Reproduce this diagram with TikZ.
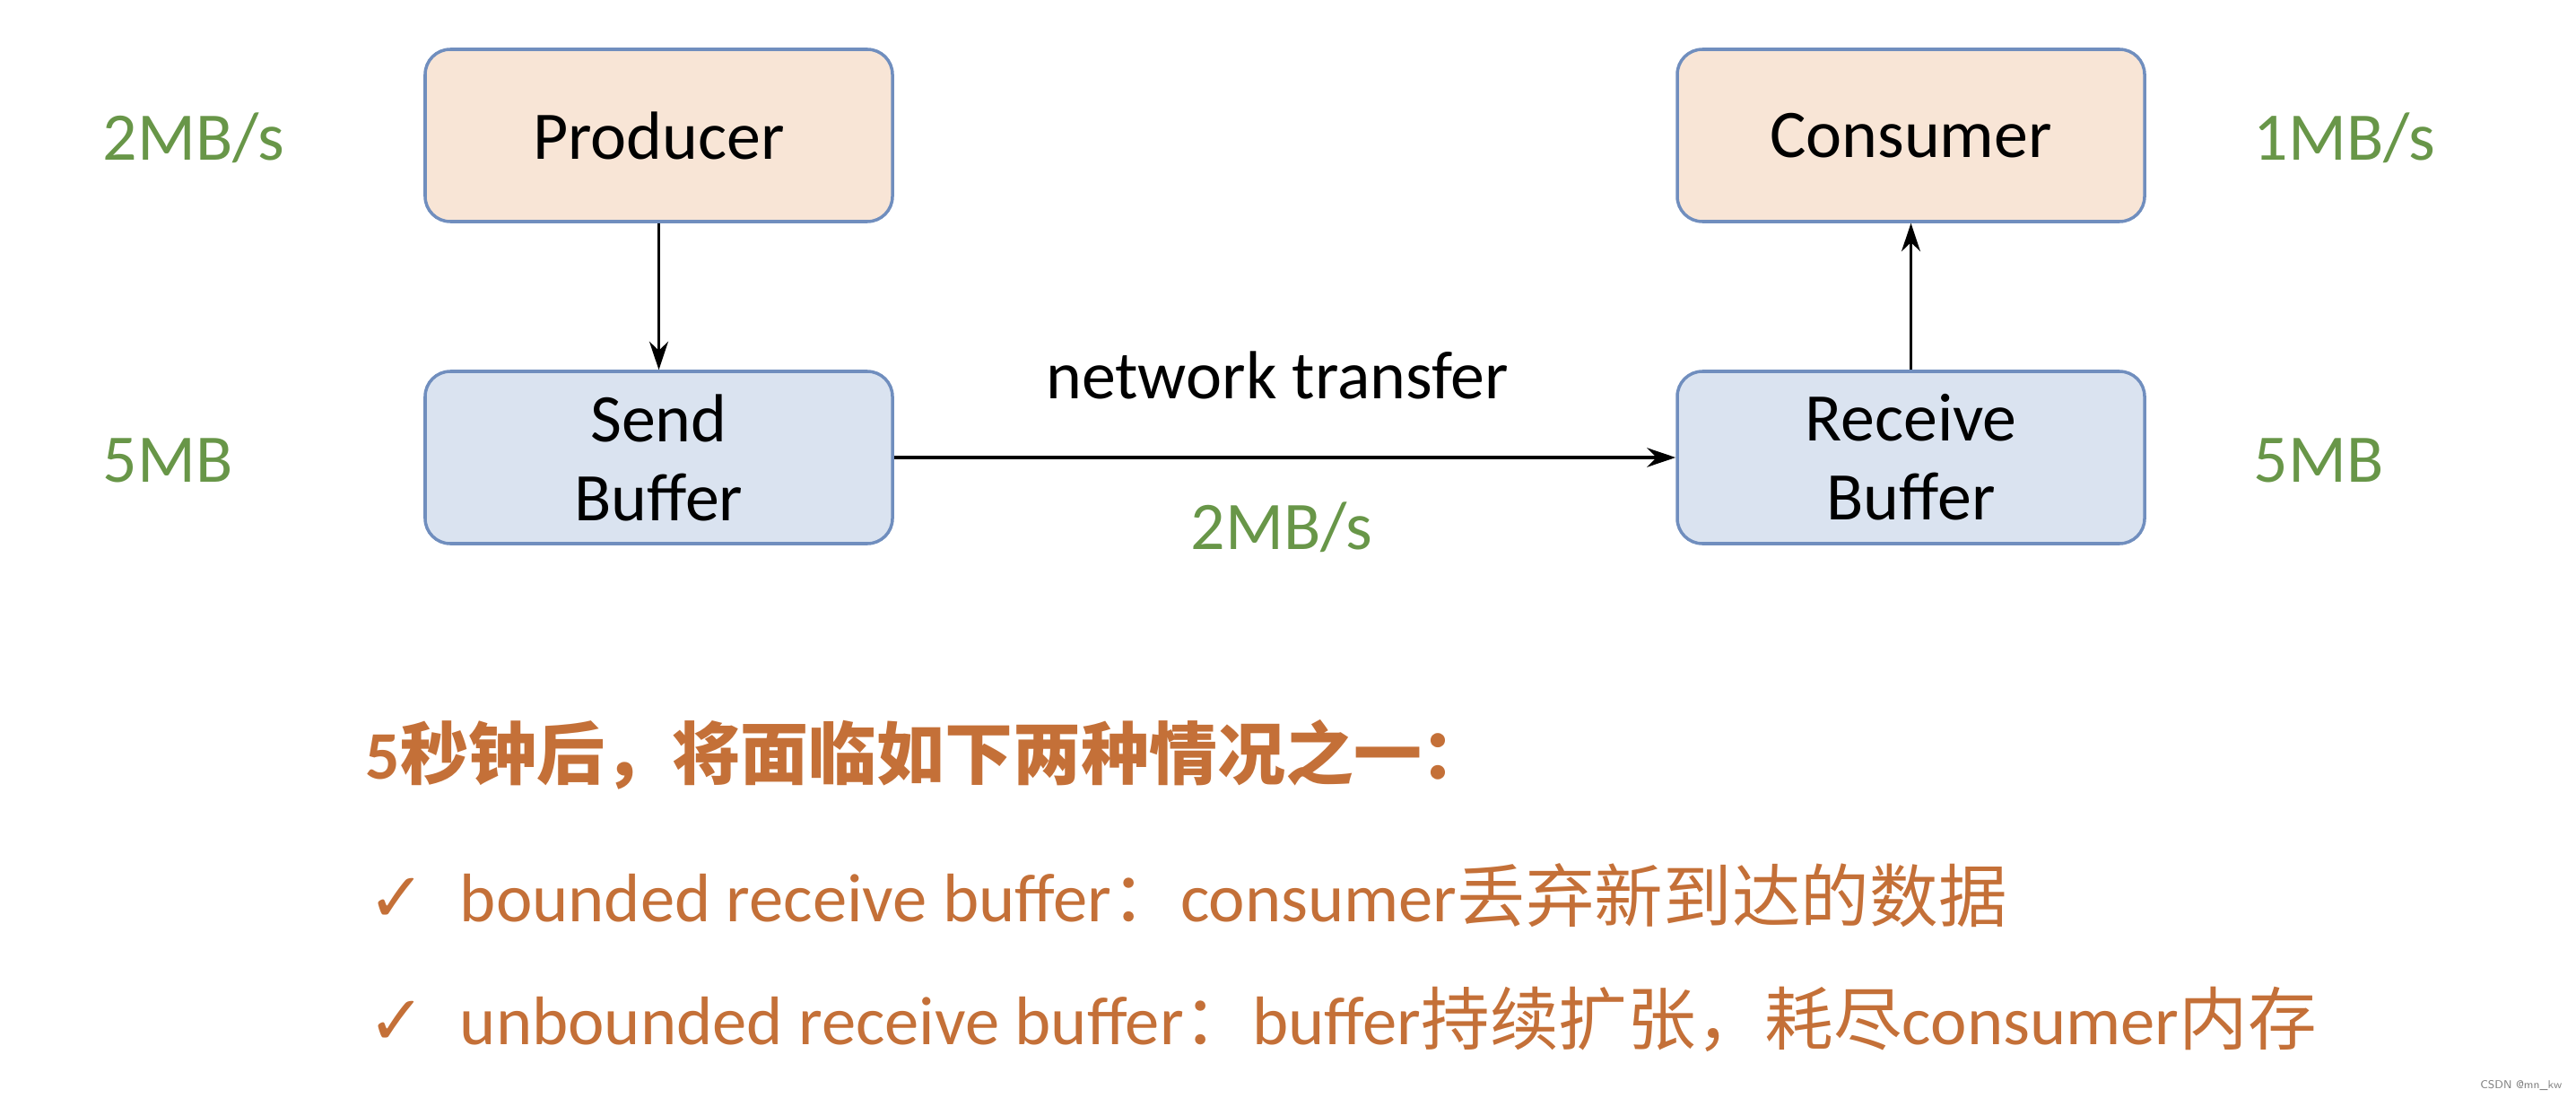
\documentclass[tikz,border=0pt]{standalone}
\usepackage{fontspec}
\setmainfont{Carlito}
\newfontfamily\cjk{Noto Sans CJK SC}
\newfontfamily\symb{DejaVu Sans}
\usetikzlibrary{arrows.meta}
\usetikzlibrary{positioning}
\definecolor{peach}{RGB}{248,229,214}
\definecolor{paleblue}{RGB}{218,227,240}
\definecolor{boxline}{RGB}{112,142,190}
\definecolor{rategreen}{RGB}{104,150,72}
\definecolor{noteorange}{RGB}{196,112,56}

\begin{document}
\begin{tikzpicture}[
    box/.style={draw=boxline, line width=1pt, rounded corners=0.28cm,
      minimum width=5.21cm, minimum height=1.92cm, align=center,
      font=\fontsize{21.6}{25}\selectfont},
    rate/.style={text=rategreen, inner sep=0pt, anchor=west,
      font=\fontsize{21.6}{25}\selectfont},
    note/.style={text=noteorange, inner sep=0pt, anchor=west,
      font=\fontsize{21.8}{25}\selectfont},
    flow/.style={-{Stealth[length=9pt,width=6pt]}, line width=0.8pt}]
    \useasboundingbox (0,0) rectangle (28.72,-12.24);
    \node[box, fill=peach] (prod) at (7.345, -1.51) {Producer};
    \node[box, fill=paleblue] (send) at (7.345, -5.10) {Send\\Buffer};
    \node[box, fill=peach] (cons) at (21.305, -1.51) {Consumer};
    \node[box, fill=paleblue] (recv) at (21.305, -5.10) {Receive\\Buffer};
    % rates and sizes
    \node[rate] (prodrate) at (1.14, -1.54) {2MB/s};
    \node[rate] (sendsize) at (1.14, -5.13) {5MB};
    \node[rate] (consrate) at (25.12, -1.54) {1MB/s};
    \node[rate] (recvsize) at (25.12, -5.13) {5MB};
    \draw[flow] (prod) -- (send);
    \draw[flow, line width=1.3pt] (send) -- (recv);
    \draw[flow] (recv) -- (cons);
    \node[font=\fontsize{21.6}{25}\selectfont, inner sep=0pt] (net) at (14.24, -4.18) {network transfer};
    \node[rate, anchor=center] (netrate) at (14.29, -5.88) {2MB/s};
    % what happens after 5 seconds
    \node[note, font=\fontsize{21.6}{25}\selectfont\bfseries] (head) at (4.07, -8.41)
      {5{\cjk 秒钟后，将面临如下两种情况之一：}};
    \node[note] (case1) at (4.10, -9.98)
      {{\symb ✓}\hspace{0.38cm}bounded receive buffer{\cjk ：}consumer{\cjk 丢弃新到达的数据}};
    \node[note] (case2) at (4.10, -11.36)
      {{\symb ✓}\hspace{0.38cm}unbounded receive buffer{\cjk ：}buffer{\cjk 持续扩张，耗尽}consumer{\cjk 内存}};
    \node[text=gray, font=\sffamily\fontsize{3.6}{4}\selectfont, inner sep=0pt, anchor=east] (mark) at (28.57, -12.10) {CSDN @mn\_kw};
\end{tikzpicture}
\end{document}
